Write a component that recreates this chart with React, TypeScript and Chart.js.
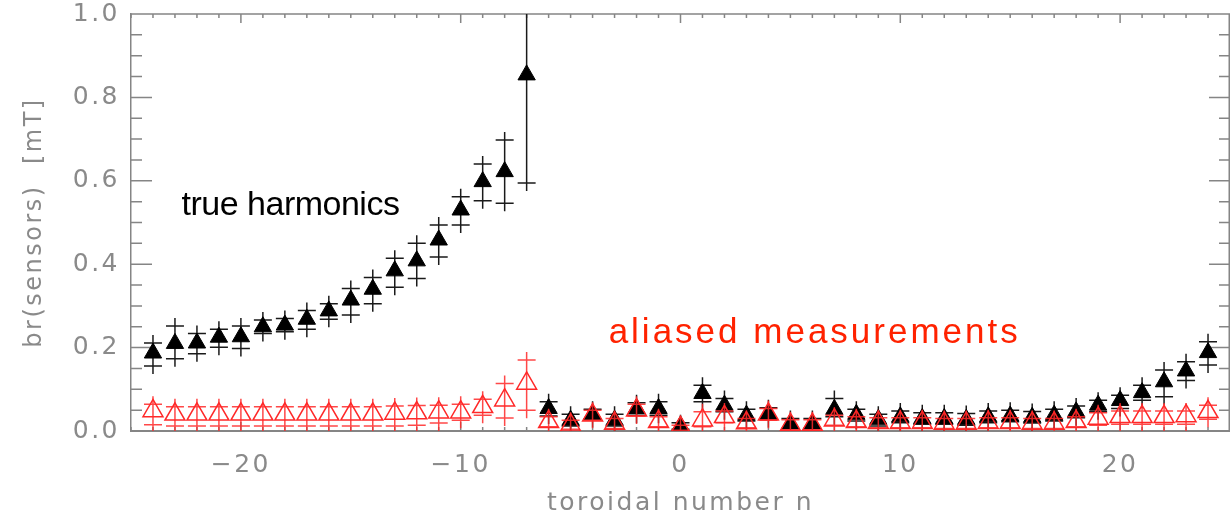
import React, { useEffect, useRef } from 'react';
import { Chart, registerables } from 'chart.js';

Chart.register(...registerables);

// toroidal mode numbers
const nValues = [
  -24, -23, -22, -21, -20, -19, -18, -17, -16, -15, -14, -13, -12, -11, -10, -9, -8, -7,
  -6, -5, -4, -3, -2, -1, 0, 1, 2, 3, 4, 5, 6, 7, 8, 9, 10, 11, 12, 13, 14, 15, 16, 17,
  18, 19, 20, 21, 22, 23, 24,
];

// true harmonics (black, filled triangles)
const trueVals = [
  0.187, 0.21, 0.211, 0.225, 0.226, 0.25, 0.254, 0.268, 0.288, 0.314, 0.34, 0.384, 0.408, 0.458, 0.53, 0.598, 0.622, 0.854,
  0.054, 0.026, 0.041, 0.026, 0.054, 0.054, 0.012, 0.09, 0.062, 0.038, 0.042, 0.018, 0.018, 0.052, 0.04, 0.028, 0.034, 0.03,
  0.03, 0.028, 0.034, 0.036, 0.033, 0.038, 0.046, 0.062, 0.073, 0.092, 0.118, 0.144, 0.188,
];
const trueHi = [
  0.211, 0.252, 0.234, 0.244, 0.252, 0.266, 0.27, 0.289, 0.305, 0.342, 0.368, 0.414, 0.45, 0.494, 0.562, 0.64, 0.698, 1.12,
  0.07, 0.04, 0.052, 0.04, 0.068, 0.07, 0.02, 0.11, 0.078, 0.052, 0.056, 0.03, 0.03, 0.078, 0.052, 0.04, 0.048, 0.044,
  0.044, 0.042, 0.048, 0.05, 0.047, 0.052, 0.06, 0.074, 0.086, 0.11, 0.146, 0.166, 0.214,
];
const trueLo = [
  0.156, 0.173, 0.185, 0.201, 0.198, 0.234, 0.238, 0.244, 0.268, 0.278, 0.305, 0.345, 0.366, 0.417, 0.494, 0.552, 0.546, 0.595,
  0.036, 0.012, 0.028, 0.012, 0.038, 0.038, 0.004, 0.07, 0.046, 0.024, 0.028, 0.006, 0.006, 0.034, 0.024, 0.012, 0.02, 0.016,
  0.016, 0.014, 0.02, 0.022, 0.019, 0.024, 0.032, 0.046, 0.054, 0.074, 0.082, 0.121, 0.158,
];

// aliased measurements (red, open triangles)
const aliasVals = [
  0.048, 0.04, 0.04, 0.04, 0.04, 0.04, 0.04, 0.04, 0.04, 0.04, 0.04, 0.042, 0.043, 0.045, 0.045, 0.058, 0.074, 0.114,
  0.022, 0.014, 0.038, 0.018, 0.05, 0.022, 0.008, 0.026, 0.034, 0.019, 0.04, 0.015, 0.015, 0.026, 0.022, 0.02, 0.02, 0.02,
  0.018, 0.018, 0.02, 0.02, 0.018, 0.018, 0.022, 0.03, 0.034, 0.034, 0.034, 0.036, 0.046,
];
const aliasHi = [
  0.064, 0.058, 0.058, 0.058, 0.058, 0.058, 0.058, 0.058, 0.058, 0.058, 0.058, 0.06, 0.061, 0.062, 0.064, 0.076, 0.114, 0.17,
  0.034, 0.026, 0.05, 0.03, 0.064, 0.034, 0.014, 0.046, 0.048, 0.03, 0.054, 0.027, 0.027, 0.038, 0.034, 0.032, 0.032, 0.032,
  0.03, 0.03, 0.032, 0.032, 0.03, 0.03, 0.034, 0.044, 0.048, 0.048, 0.048, 0.048, 0.062,
];
const aliasLo = [
  0.015, 0.012, 0.012, 0.012, 0.012, 0.012, 0.012, 0.012, 0.012, 0.012, 0.012, 0.012, 0.014, 0.019, 0.026, 0.038, 0.031, 0.05,
  0.01, 0.004, 0.026, 0.006, 0.036, 0.01, 0.002, 0.01, 0.02, 0.008, 0.026, 0.003, 0.003, 0.014, 0.01, 0.008, 0.008, 0.008,
  0.006, 0.006, 0.008, 0.008, 0.006, 0.006, 0.01, 0.014, 0.016, 0.016, 0.016, 0.016, 0.028,
];

const xTickValues = [-20, -10, 0, 10, 20];
const yTickValues = [0, 0.2, 0.4, 0.6, 0.8, 1.0];

const trueLabel = 'true harmonics';
const aliasLabel = 'aliased measurements';

const AXIS_GRAY = '#858585';
const TEXT_GRAY = '#8a8a8a';
const BLACK = '#000000';
const RED = 'rgb(255,40,40)';

const spacingPlugin = {
  id: 'spacing',
  beforeDraw(chart: any) {
    chart.ctx.letterSpacing = '2.5px';
  },
  beforeDatasetsDraw(chart: any) {
    chart.ctx.letterSpacing = '0px';
  },
};

const framePlugin = {
  id: 'frameTicks',
  beforeDatasetsDraw(chart: any) {
    const { ctx, chartArea: a, scales } = chart;
    const x = scales.x;
    const y = scales.y;
    ctx.save();
    ctx.strokeStyle = AXIS_GRAY;
    ctx.lineWidth = 1.5;
    ctx.beginPath();
    ctx.moveTo(a.left, a.top);
    ctx.lineTo(a.right, a.top);
    ctx.moveTo(a.right - 0.75, a.top);
    ctx.lineTo(a.right - 0.75, a.bottom);
    for (let n = -25; n <= 25; n += 1) {
      const px = x.getPixelForValue(n);
      const len = n % 10 === 0 ? 9 : 4;
      ctx.moveTo(px, a.top);
      ctx.lineTo(px, a.top + len);
      ctx.moveTo(px, a.bottom);
      ctx.lineTo(px, a.bottom - len);
    }
    for (let k = 0; k <= 20; k += 1) {
      const py = y.getPixelForValue(k * 0.05);
      const len = k % 4 === 0 ? 21 : 11;
      ctx.moveTo(a.left, py);
      ctx.lineTo(a.left + len, py);
      ctx.moveTo(a.right, py);
      ctx.lineTo(a.right - len, py);
    }
    ctx.stroke();
    ctx.restore();
  },
};

function drawErrors(chart: any, hi: number[], lo: number[], color: string) {
  const { ctx, chartArea: a, scales } = chart;
  const x = scales.x;
  const y = scales.y;
  ctx.save();
  ctx.beginPath();
  ctx.rect(a.left, a.top, a.right - a.left, a.bottom - a.top);
  ctx.clip();
  ctx.strokeStyle = color;
  ctx.lineWidth = 1.5;
  ctx.beginPath();
  for (let i = 0; i < nValues.length; i++) {
    const px = x.getPixelForValue(nValues[i]);
    const ph = y.getPixelForValue(hi[i]);
    const pl = y.getPixelForValue(lo[i]);
    ctx.moveTo(px, ph - 8);
    ctx.lineTo(px, pl + 8);
    ctx.moveTo(px - 9, ph);
    ctx.lineTo(px + 9, ph);
    ctx.moveTo(px - 9, pl);
    ctx.lineTo(px + 9, pl);
  }
  ctx.stroke();
  ctx.restore();
}

const errorPlugin = {
  id: 'errorBars',
  beforeDatasetsDraw(chart: any) {
    drawErrors(chart, trueHi, trueLo, '#1a1a1a');
  },
  afterDatasetsDraw(chart: any) {
    drawErrors(chart, aliasHi, aliasLo, 'rgba(255,40,40,0.85)');
  },
};

const labelPlugin = {
  id: 'labels',
  afterDraw(chart: any) {
    const { ctx, scales } = chart;
    const x = scales.x;
    const y = scales.y;
    ctx.save();
    ctx.textAlign = 'left';
    ctx.textBaseline = 'alphabetic';
    ctx.font = '34px "Liberation Sans", Arial, sans-serif';
    ctx.letterSpacing = '-0.5px';
    ctx.fillStyle = BLACK;
    ctx.fillText(trueLabel, x.getPixelForValue(-22.7), y.getPixelForValue(0.518));
    ctx.font = '35px "Liberation Sans", Arial, sans-serif';
    ctx.letterSpacing = '3px';
    ctx.fillStyle = 'rgb(255,34,0)';
    ctx.fillText(aliasLabel, x.getPixelForValue(-3.27), y.getPixelForValue(0.21));
    ctx.restore();
  },
};

export default function App() {
  const ref = useRef<HTMLCanvasElement>(null);
  useEffect(() => {
    const canvas = ref.current;
    if (!canvas) return;
    const tickFont = { family: '"DejaVu Sans", sans-serif', size: 25 };
    const chart = new Chart(canvas, {
      type: 'scatter',
      data: {
        datasets: [
          {
            label: aliasLabel,
            data: nValues.map((n, i) => ({ x: n, y: aliasVals[i] })),
            pointStyle: 'triangle',
            pointRadius: 11.5,
            pointBorderWidth: 1.5,
            borderColor: RED,
            backgroundColor: 'rgba(0,0,0,0)',
            showLine: false,
          },
          {
            label: trueLabel,
            data: nValues.map((n, i) => ({ x: n, y: trueVals[i] })),
            pointStyle: 'triangle',
            pointRadius: 10,
            pointBorderWidth: 1,
            borderColor: BLACK,
            backgroundColor: BLACK,
            showLine: false,
          },
        ],
      },
      options: {
        animation: false,
        responsive: false,
        layout: { autoPadding: false, padding: { top: 14, right: 0, left: 0, bottom: 0 } },
        plugins: {
          legend: { display: false },
          tooltip: { enabled: false },
        },
        events: [],
        scales: {
          x: {
            type: 'linear',
            min: -25,
            max: 25,
            afterBuildTicks: (s: any) => {
              s.ticks = xTickValues.map((v) => ({ value: v }));
            },
            afterFit: (s: any) => {
              s.height = 87;
              s.paddingLeft = 0;
              s.paddingRight = 0;
            },
            grid: { display: false, drawTicks: false },
            border: { display: true, color: AXIS_GRAY, width: 2 },
            ticks: {
              padding: 19,
              color: TEXT_GRAY,
              font: tickFont,
              maxRotation: 0,
              autoSkip: false,
              callback: (v: any) => (v < 0 ? '\u2212' + Math.abs(v) : String(v)),
            },
            title: {
              display: true,
              text: 'toroidal number n',
              color: TEXT_GRAY,
              font: tickFont,
              padding: { top: 0, bottom: 0 },
            },
          },
          y: {
            type: 'linear',
            min: 0,
            max: 1,
            afterBuildTicks: (s: any) => {
              s.ticks = yTickValues.map((v) => ({ value: v }));
            },
            afterFit: (s: any) => {
              s.width = 131;
              s.paddingTop = 0;
              s.paddingBottom = 0;
            },
            grid: { display: false, drawTicks: false },
            border: { display: true, color: AXIS_GRAY, width: 1.5 },
            ticks: {
              padding: 11,
              color: TEXT_GRAY,
              font: tickFont,
              autoSkip: false,
              callback: (v: any) => Number(v).toFixed(1),
            },
            title: {
              display: true,
              text: 'br(sensors)  [mT]',
              color: TEXT_GRAY,
              font: { family: '"DejaVu Sans", sans-serif', size: 24 },
              padding: { top: 20, bottom: 0 },
            },
          },
        },
      },
      plugins: [spacingPlugin, framePlugin, errorPlugin, labelPlugin],
    } as any);
    return () => chart.destroy();
  }, []);
  return (
    <div style={{ position: 'fixed', left: 0, top: 0, width: 1230, height: 518, background: '#ffffff' }}>
      <canvas ref={ref} width={1230} height={518} />
    </div>
  );
}
